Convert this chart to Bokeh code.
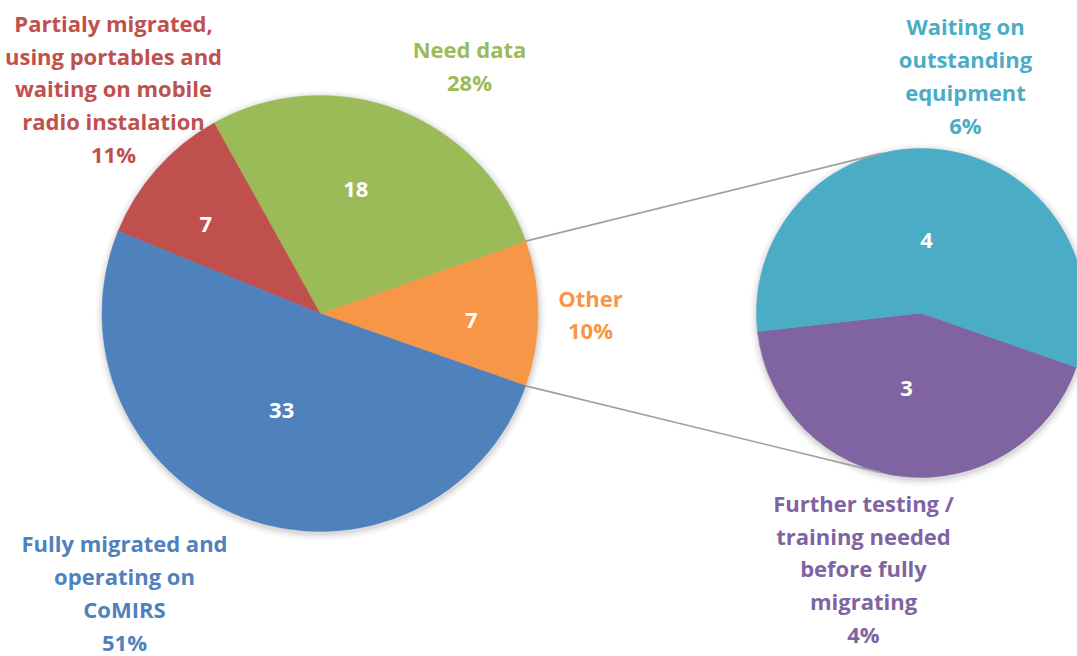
import math
from bokeh.plotting import figure
from bokeh.models import Range1d, ColumnDataSource
from bokeh.core.properties import value
from bokeh.embed import file_html
from bokeh.resources import INLINE

# ---------------- data ----------------
main_labels = ["Other", "Need data",
               "Partialy migrated,\nusing portables and\nwaiting on mobile\nradio instalation",
               "Fully migrated and\noperating on\nCoMIRS"]
main_values = [7, 18, 7, 33]
main_pcts = ["10%", "28%", "11%", "51%"]
main_colors = ["#F79646", "#9BBB59", "#C0504D", "#4F81BD"]

sec_labels = ["Further testing /\ntraining needed\nbefore fully\nmigrating",
              "Waiting on\noutstanding\nequipment"]
sec_values = [3, 4]
sec_pcts = ["4%", "6%"]
sec_colors = ["#8064A2", "#4BACC6"]

# ---------------- layout ----------------
W, H = 1077, 656
FONT = "Open Sans"

def Y(py):  # reference pixel y -> data y
    return 656 - py

p = figure(width=W, height=H, output_backend="svg", toolbar_location=None,
           x_range=Range1d(0, W), y_range=Range1d(Y(H), Y(0)),
           min_border=0)
p.axis.visible = False
p.grid.visible = False
p.outline_line_color = None
p.background_fill_color = "white"

# main pie
cx, cy, R = 319.5, Y(313), 218
total = sum(main_values)
start = -math.pi * main_values[0] / total
starts, ends = [], []
a = start
for v in main_values:
    starts.append(a)
    a += 2 * math.pi * v / total
    ends.append(a)

# secondary pie
scx, scy, sR = 920.5, Y(312.5), 164.5
stotal = sum(sec_values)
s0 = math.radians(186.5)
sstarts, sends = [], []
a = s0
for v in sec_values:
    sstarts.append(a)
    a += 2 * math.pi * v / stotal
    sends.append(a)

# soft outer shadows
for k, al in [(7, 0.025), (5, 0.03), (3, 0.04), (1.5, 0.05)]:
    p.circle(x=[cx + 0.5], y=[cy - 2], radius=R + k, fill_color="black",
             fill_alpha=al, line_color=None)
    p.circle(x=[scx + 0.5], y=[scy - 2], radius=sR + k, fill_color="black",
             fill_alpha=al, line_color=None)

src = ColumnDataSource(dict(s=starts, e=ends, c=main_colors))
p.wedge(x=cx, y=cy, radius=R, start_angle="s", end_angle="e", fill_color="c",
        line_color="c", line_width=0.5, direction="anticlock", source=src)
ssrc = ColumnDataSource(dict(s=sstarts, e=sends, c=sec_colors))
p.wedge(x=scx, y=scy, radius=sR, start_angle="s", end_angle="e", fill_color="c",
        line_color="c", line_width=0.5, direction="anticlock", source=ssrc)

# connector lines
for ang_m, ang_s in [(ends[0], math.radians(104)), (starts[0], math.radians(256))]:
    p.line(x=[cx + R * math.cos(ang_m), scx + sR * math.cos(ang_s)],
           y=[cy + R * math.sin(ang_m), scy + sR * math.sin(ang_s)],
           line_color="#A0A0A0", line_width=1.6)

# inner value labels (radius fraction, angle offset in degrees from slice middle)
fr = [(0.695, -2.6), (0.59, 4.6), (0.665, 3.6), (0.48, -0.7)]
ix, iy, it = [], [], []
for i, v in enumerate(main_values):
    m = (starts[i] + ends[i]) / 2 + math.radians(fr[i][1])
    ix.append(cx + fr[i][0] * R * math.cos(m))
    iy.append(cy + fr[i][0] * R * math.sin(m))
    it.append(str(v))
sfr = [(0.467, -4.5), (0.442, 2.0)]
for i, v in enumerate(sec_values):
    m = (sstarts[i] + sends[i]) / 2 + math.radians(sfr[i][1])
    ix.append(scx + sfr[i][0] * sR * math.cos(m))
    iy.append(scy + sfr[i][0] * sR * math.sin(m))
    it.append(str(v))
p.text(x=ix, y=iy, text=it, text_color="white", text_font=value(FONT),
       text_font_style="bold", text_font_size="22px", text_align="center",
       text_baseline="middle")

# outer category labels
LH = 1.09
lab_pos = {0: (590, 313.5), 1: (469, 65), 2: (113, 88), 3: (124, 592)}
for i in range(4):
    px_, py_ = lab_pos[i]
    p.text(x=[px_], y=[Y(py_)], text=[main_labels[i] + "\n" + main_pcts[i]],
           text_color=main_colors[i], text_font=value(FONT), text_font_style="bold",
           text_font_size="22px", text_align="center", text_baseline="middle",
           text_line_height=LH)
slab_pos = {0: (863, 568), 1: (965, 75)}
for i in range(2):
    px_, py_ = slab_pos[i]
    p.text(x=[px_], y=[Y(py_)], text=[sec_labels[i] + "\n" + sec_pcts[i]],
           text_color=sec_colors[i], text_font=value(FONT), text_font_style="bold",
           text_font_size="22px", text_align="center", text_baseline="middle",
           text_line_height=LH)

open("out.html", "w").write(file_html(p, INLINE))
